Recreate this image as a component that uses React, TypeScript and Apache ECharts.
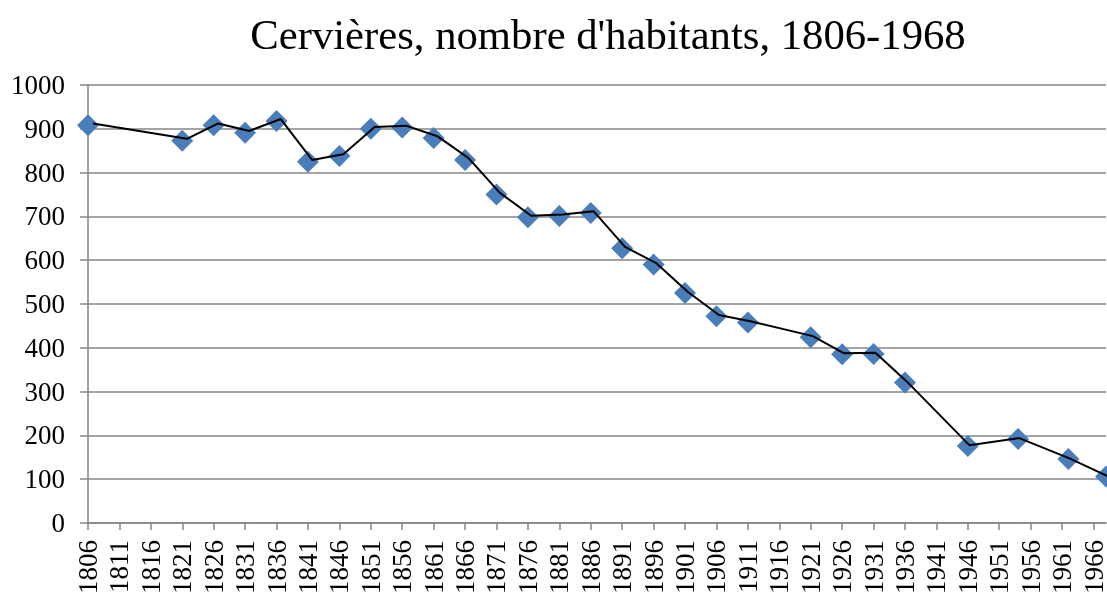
import React, { useEffect, useRef } from "react";
import * as echarts from "echarts";

const titleText = "Cervières, nombre d'habitants, 1806-1968";

const years = [
  1806, 1821, 1826, 1831, 1836, 1841, 1846, 1851, 1856, 1861, 1866, 1871, 1876, 1881,
  1886, 1891, 1896, 1901, 1906, 1911, 1921, 1926, 1931, 1936, 1946, 1954, 1962, 1968,
];
const inhabitants = [
  908, 873, 908, 891, 918, 825, 838, 900, 903, 879, 829, 750, 698, 701,
  708, 627, 590, 525, 472, 458, 424, 385, 386, 321, 176, 192, 146, 106,
];
const xTickYears = [
  1806, 1811, 1816, 1821, 1826, 1831, 1836, 1841, 1846, 1851, 1856, 1861, 1866, 1871,
  1876, 1881, 1886, 1891, 1896, 1901, 1906, 1911, 1916, 1921, 1926, 1931, 1936, 1941,
  1946, 1951, 1956, 1961, 1966,
];
const xMin = 1806;
const xMax = 1968;
const yMin = 0;
const yMax = 1000;
const yStep = 100;

export default function App() {
  const ref = useRef<HTMLDivElement>(null);
  useEffect(() => {
    const chart = echarts.init(ref.current!, null, { renderer: "svg" });
    const points = years.map((y, i) => [y, inhabitants[i]]);
    const font = "'Liberation Serif', 'Times New Roman', serif";
    const gray = "#868686";
    const gridW = 1022;
    const gridH = 439.5;
    chart.setOption({
      animation: false,
      title: {
        text: titleText,
        left: 603,
        top: 8,
        textAlign: "center",
        textStyle: { fontFamily: font, fontSize: 42.7, fontWeight: "normal", color: "#000" },
      },
      grid: [
        { left: 88, top: 85, width: gridW, height: gridH },
        { left: 93, top: 83, width: gridW, height: gridH },
      ],
      xAxis: [
        {
          type: "value",
          gridIndex: 0,
          min: xMin,
          max: xMax,
          axisLine: { show: true, lineStyle: { color: gray, width: 1.5 } },
          axisTick: {
            show: true,
            customValues: xTickYears,
            length: 7,
            lineStyle: { color: gray, width: 1.5 },
          },
          axisLabel: {
            customValues: xTickYears,
            rotate: 90,
            margin: 17,
            fontFamily: font,
            fontSize: 27,
            color: "#000",
            formatter: (v: number) => String(v),
          },
          splitLine: { show: false },
        },
        { type: "value", gridIndex: 1, min: xMin, max: xMax, show: false },
      ],
      yAxis: [
        {
          type: "value",
          gridIndex: 0,
          min: yMin,
          max: yMax,
          interval: yStep,
          axisLine: { show: true, lineStyle: { color: gray, width: 1.5 } },
          axisTick: { show: true, length: 8, lineStyle: { color: gray, width: 1.5 } },
          axisLabel: {
            margin: 23,
            fontFamily: font,
            fontSize: 27,
            color: "#000",
            formatter: (v: number) => String(v),
          },
          splitLine: { show: true, lineStyle: { color: gray, width: 1.5 } },
        },
        { type: "value", gridIndex: 1, min: yMin, max: yMax, show: false },
      ],
      series: [
        {
          type: "scatter",
          xAxisIndex: 0,
          yAxisIndex: 0,
          data: points,
          symbol: "diamond",
          symbolSize: 22,
          itemStyle: { color: "#4A7EBB", opacity: 1 },
          z: 2,
        },
        {
          type: "line",
          xAxisIndex: 1,
          yAxisIndex: 1,
          data: points,
          symbol: "none",
          showSymbol: false,
          lineStyle: { color: "#000", width: 2 },
          z: 3,
        },
      ],
    });
    return () => chart.dispose();
  }, []);
  return (
    <div
      ref={ref}
      style={{ position: "fixed", left: 0, top: 0, width: 1107, height: 597 }}
    />
  );
}
